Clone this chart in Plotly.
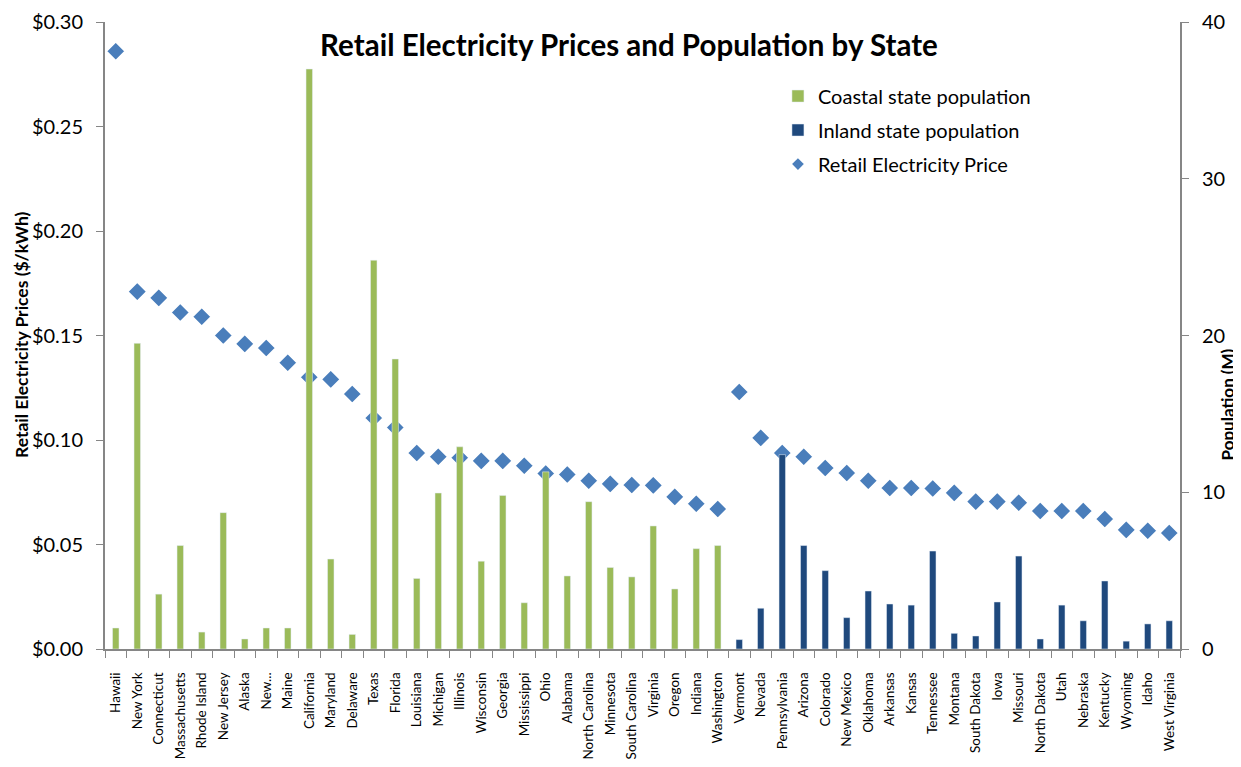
import plotly.graph_objects as go

coastal_states = ["Hawaii", "New York", "Connecticut", "Massachusetts", "Rhode Island", "New Jersey",
                  "Alaska", "New Hampshire", "Maine", "California", "Maryland", "Delaware", "Texas",
                  "Florida", "Louisiana", "Michigan", "Illinois", "Wisconsin", "Georgia", "Mississippi",
                  "Ohio", "Alabama", "North Carolina", "Minnesota", "South Carolina", "Virginia",
                  "Oregon", "Indiana", "Washington"]
coastal_pop = [1.34, 19.5, 3.5, 6.6, 1.08, 8.7, 0.64, 1.34, 1.34, 37.0, 5.74, 0.93, 24.8,
               18.5, 4.5, 9.95, 12.9, 5.6, 9.8, 2.95, 11.3, 4.66, 9.4, 5.2, 4.6, 7.85,
               3.83, 6.4, 6.6]
coastal_price = [0.286, 0.171, 0.168, 0.161, 0.159, 0.150, 0.146, 0.144, 0.137, 0.130, 0.129,
                 0.122, 0.1105, 0.106, 0.0938, 0.092, 0.0915, 0.090, 0.090, 0.0877, 0.084,
                 0.0835, 0.0805, 0.079, 0.0785, 0.0783, 0.0728, 0.0695, 0.067]

inland_states = ["Vermont", "Nevada", "Pennsylvania", "Arizona", "Colorado", "New Mexico",
                 "Oklahoma", "Arkansas", "Kansas", "Tennessee", "Montana", "South Dakota", "Iowa",
                 "Missouri", "North Dakota", "Utah", "Nebraska", "Kentucky", "Wyoming", "Idaho",
                 "West Virginia"]
inland_pop = [0.6, 2.6, 12.4, 6.6, 5.0, 2.0, 3.7, 2.87, 2.8, 6.25, 1.0, 0.83, 3.0, 5.93,
              0.64, 2.8, 1.8, 4.34, 0.5, 1.6, 1.8]
inland_price = [0.123, 0.101, 0.0938, 0.092, 0.0866, 0.0842, 0.0805, 0.077, 0.077, 0.0768,
                0.0747, 0.0705, 0.0705, 0.070, 0.066, 0.066, 0.066, 0.0622, 0.057, 0.0566,
                0.0555]

states = coastal_states + inland_states
prices = coastal_price + inland_price
tick_text = [("New..." if s == "New Hampshire" else s) for s in states]

FONT = "Lato, 'Open Sans', sans-serif"
GREEN = "#9BBB59"
NAVY = "#1F497D"
BLUE = "#4A7EBB"
AXIS = "#868686"

fig = go.Figure()
fig.add_trace(go.Bar(x=coastal_states, y=coastal_pop, name="Coastal state population",
                     marker=dict(color=GREEN), width=0.3, yaxis="y2", legendgroup="a"))
fig.add_trace(go.Bar(x=inland_states, y=inland_pop, name="Inland state population",
                     marker=dict(color=NAVY), width=0.3, yaxis="y2", legendgroup="b"))
fig.add_trace(go.Scatter(x=states, y=prices, mode="markers", name="Retail Electricity Price",
                         marker=dict(symbol="diamond", size=15, color=BLUE,
                                     line=dict(color="white", width=2)),
                         yaxis="y", showlegend=False, legendgroup="c"))
# legend entry for the price series (small diamond as in the reference legend)
fig.add_trace(go.Scatter(x=[None], y=[None], mode="markers", name="Retail Electricity Price",
                         marker=dict(symbol="diamond", size=9, color=BLUE),
                         yaxis="y", legendgroup="c"))

fig.update_layout(
    width=1233, height=759,
    margin=dict(l=97, r=61, t=14, b=118, autoexpand=False),
    paper_bgcolor="white", plot_bgcolor="white",
    font=dict(family=FONT, color="#000000"),
    barmode="overlay",
    showlegend=True,
    title=dict(text="<b>Retail Electricity Prices and Population by State</b>",
               xref="paper", yref="paper", x=0.4874, xanchor="center",
               y=0.9617, yanchor="middle",
               font=dict(size=29.5, family=FONT, color="#000000")),
    legend=dict(x=0.626, y=0.913, xanchor="left", yanchor="top",
                font=dict(size=20, family=FONT), bgcolor="rgba(0,0,0,0)",
                tracegroupgap=5, traceorder="grouped"),
    xaxis=dict(type="category", categoryorder="array", categoryarray=states,
               tickmode="array", tickvals=states, ticktext=tick_text,
               tickangle=-90, tickfont=dict(size=13.5, family=FONT),
               showline=True, linecolor=AXIS, linewidth=2,
               ticks="outside", tickson="boundaries", ticklen=7, tickcolor=AXIS,
               ticklabelstandoff=16,
               showgrid=False, range=[-0.5, len(states) - 0.5]),
    yaxis=dict(range=[0, 0.30], tickvals=[0, 0.05, 0.10, 0.15, 0.20, 0.25, 0.30],
               tickformat="$.2f", tickfont=dict(size=20, family=FONT),
               showline=True, linecolor=AXIS, linewidth=2, ticks="outside",
               ticklen=7, tickcolor=AXIS, ticklabelstandoff=9,
               showgrid=False, zeroline=False),
    yaxis2=dict(range=[0, 40], tickvals=[0, 10, 20, 30, 40], overlaying="y", side="right",
                tickfont=dict(size=20, family=FONT),
                showline=True, linecolor=AXIS, linewidth=2, ticks="outside",
                ticklen=7, tickcolor=AXIS, ticklabelstandoff=9,
                showgrid=False, zeroline=False),
    annotations=[
        dict(text="<b>Retail Electricity Prices ($/kWh)</b>", xref="paper", yref="paper",
             x=-0.0772, y=0.5008, xanchor="center", yanchor="middle", textangle=-90,
             showarrow=False, font=dict(size=17.5, family=FONT, color="#000000")),
        dict(text="<b>Population (M)</b>", xref="paper", yref="paper",
             x=1.0437, y=0.39, xanchor="center", yanchor="middle", textangle=-90,
             showarrow=False, font=dict(size=17, family=FONT, color="#000000")),
    ],
)

fig.write_html("out.html")
